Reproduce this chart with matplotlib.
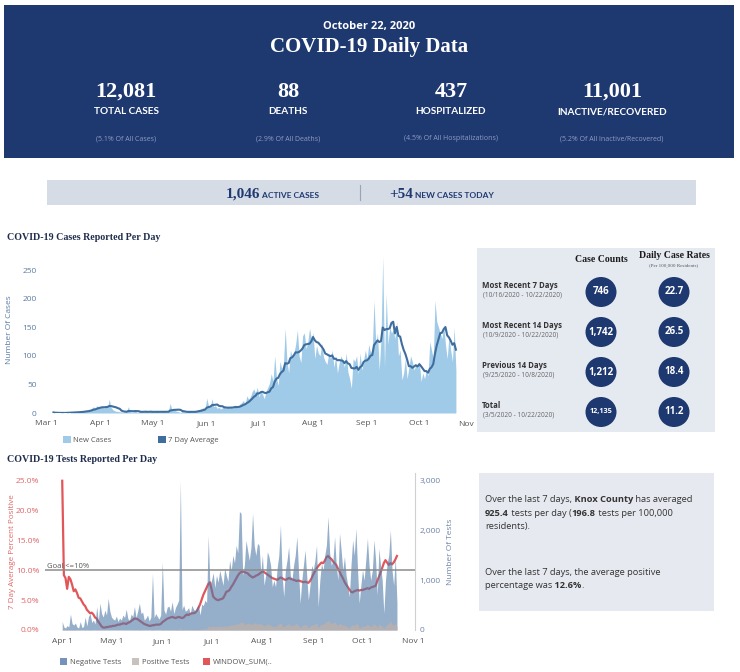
import numpy as np
import pandas as pd
import matplotlib
matplotlib.use("Agg")
import matplotlib.pyplot as plt
import matplotlib.dates as mdates
from matplotlib.patches import Rectangle, Ellipse
from matplotlib.ticker import FuncFormatter

# ---------------- data ----------------
report_date = "October 22, 2020"
header_values = ["12,081", "88", "437", "11,001"]
header_labels = ["TOTAL CASES", "DEATHS", "HOSPITALIZED", "INACTIVE/RECOVERED"]
header_shares = ["(5.1% Of All Cases)", "(2.9% Of All Deaths)",
                 "(4.5% Of All Hospitalizations)", "(5.2% Of All Inactive/Recovered)"]
active_cases = "1,046"
new_cases_today = "+54"

periods = ["Most Recent 7 Days", "Most Recent 14 Days", "Previous 14 Days", "Total"]
period_ranges = ["(10/16/2020 - 10/22/2020)", "(10/9/2020 - 10/22/2020)",
                 "(9/25/2020 - 10/8/2020)", "(3/5/2020 - 10/22/2020)"]
case_counts = ["746", "1,742", "1,212", "12,135"]
case_rates = ["22.7", "26.5", "18.4", "11.2"]

# daily new cases, Mar 5 - Oct 22
cases_mar = [1, 0, 0, 0, 0, 1, 0, 0, 1, 0, 1, 2, 1, 2, 1, 3, 2, 4, 3, 5, 4, 6, 8, 11, 7, 13, 10]
cases_apr = [11, 10, 8, 13, 9, 24, 10, 6, 4, 3, 3, 2, 2, 1, 2, 3, 11, 2, 1, 2, 3,
             1, 2, 4, 1, 2, 3, 1, 2, 3]
cases_may = [2, 1, 3, 2, 1, 2, 3, 2, 1, 4, 17, 5, 6, 4, 3, 2, 1, 3, 2, 1, 2,
             3, 2, 1, 3, 4, 5, 6, 8, 9, 7]
cases_jun = [26, 12, 9, 25, 11, 13, 8, 10, 7, 9, 12, 8, 11, 9, 10, 8, 14, 12, 9, 16, 18,
             22, 15, 30, 24, 28, 37, 42, 35, 45]
cases_jul = [28, 40, 33, 25, 38, 45, 52, 69, 55, 100, 62, 48, 90, 78, 85, 148, 92, 70, 110, 98, 105,
             120, 145, 100, 88, 135, 140, 112, 125, 148, 130]
cases_aug = [140, 95, 118, 105, 100, 122, 98, 90, 85, 105, 95, 110, 80, 100, 70, 88, 100, 92, 80, 105, 72,
             60, 43, 95, 90, 100, 68, 105, 75, 92, 110]
cases_sep = [95, 120, 105, 112, 197, 120, 140, 75, 130, 273, 80, 209, 120, 150, 140, 145, 130, 160, 100, 110, 58,
             70, 95, 60, 80, 100, 90, 75, 85, 78]
cases_oct = [90, 55, 70, 60, 75, 65, 125, 110, 95, 197, 160, 150, 140, 130, 155, 120, 95, 135, 110, 90, 150, 75]
new_cases = cases_mar + cases_apr + cases_may + cases_jun + cases_jul + cases_aug + cases_sep + cases_oct

# daily tests, Apr 1 - Oct 22
neg_apr = [170, 60, 40, 90, 60, 320, 130, 100, 140, 60, 40, 170, 50, 70, 260, 80, 270, 330, 150, 200, 120,
           470, 180, 540, 330, 260, 400, 300, 640, 380]
neg_may = [260, 220, 200, 280, 170, 240, 200, 300, 250, 420, 230, 190, 320, 270, 470, 250, 380, 540, 330, 360, 200,
           240, 300, 180, 260, 1140, 250, 330, 270, 220, 300]
neg_jun = [1370, 400, 320, 460, 480, 380, 570, 330, 450, 520, 600, 3000, 410, 500, 380, 400, 450, 320, 500, 420, 380,
           460, 510, 300, 520, 490, 600, 550, 1900, 900]
neg_jul = [1000, 1150, 850, 1100, 960, 1200, 1050, 900, 1250, 1100, 980, 1400, 1200, 1500,
           1350, 1700, 1550, 2380, 2345, 1100, 1300, 1800, 1600, 1400, 1650, 2345, 1700, 1500, 1740, 1700, 1150]
neg_aug = [1500, 900, 1100, 1575, 1474, 1300, 870, 1000, 870, 1250, 1500, 2110, 1100, 670,
           1200, 1400, 1675, 1100, 1005, 1300, 1500, 1876, 1200, 536, 1000, 1300, 1608, 1100, 603, 900, 1300]
neg_sep = [1200, 1400, 1700, 469, 1000, 1340, 1200, 1500, 1700, 2278, 1541, 1300, 1400, 1876,
           1300, 1005, 1943, 1600, 1200, 1474, 1100, 900, 670, 1300, 1810, 1500, 2043, 1200, 536, 900]
neg_oct = [1206, 1000, 1400, 1843, 1300, 1000, 1200, 1810, 1400, 700, 1640, 1300, 1000, 335,
           1000, 1340, 1500, 2010, 1200, 900, 1474, 536]
negative_tests = neg_apr + neg_may + neg_jun + neg_jul + neg_aug + neg_sep + neg_oct

pos_apr = [20, 8, 5, 9, 6, 18, 10, 8, 9, 5, 4, 8, 4, 5, 9, 3, 8, 9, 4, 5, 3, 8, 3, 6, 4, 3, 5, 2, 4, 3]
pos_may = [2, 2, 1, 3, 2, 2, 3, 3, 4, 3, 2, 4, 3, 4, 8, 4, 6, 8, 5, 6, 3, 4, 3, 2, 3, 20, 3, 4, 3, 2, 4]
pos_jun = [22, 8, 6, 9, 10, 8, 12, 7, 9, 11, 13, 45, 9, 10, 8, 9, 10, 8, 12, 11, 10,
           14, 16, 12, 18, 20, 25, 30, 90, 60]
pos_jul = [70, 80, 60, 75, 65, 85, 75, 70, 90, 80, 75, 100, 90, 110, 100, 130, 115, 140, 160, 150, 110,
           120, 140, 130, 115, 125, 150, 130, 120, 135, 125]
pos_aug = [110, 80, 95, 120, 115, 100, 75, 80, 70, 100, 120, 150, 95, 60, 95, 110, 130, 90, 85, 100, 115,
           140, 95, 45, 80, 100, 120, 90, 50, 75, 100]
pos_sep = [100, 120, 150, 45, 90, 120, 110, 140, 160, 200, 150, 130, 140, 170, 120, 95, 140, 120, 100, 105, 80,
           60, 45, 85, 110, 90, 120, 130, 40, 60]
pos_oct = [80, 70, 95, 120, 90, 75, 85, 130, 100, 50, 120, 100, 80, 30, 80, 110, 130, 180, 120, 90, 140, 60]
positive_tests = pos_apr + pos_may + pos_jun + pos_jul + pos_aug + pos_sep + pos_oct

# 7 day average percent positive, Apr 1 - Oct 22
pct_apr = [25.0, 9.2, 8.7, 6.9, 8.9, 8.5, 7.6, 6.5, 6.8, 6.2, 5.4, 5.3, 4.8, 4.3, 4.0, 3.4, 3.1, 2.8, 2.9, 2.6,
           2.1, 1.9, 1.4, 1.0, 0.6, 0.4, 0.4, 0.5, 0.5, 0.6]
pct_may = [0.6, 0.7, 0.7, 0.8, 0.9, 0.9, 1.0, 1.1, 1.1, 1.0, 1.2, 1.3, 1.5, 1.7, 1.9, 1.9, 1.8, 1.6, 1.4, 1.2,
           1.0, 0.9, 0.8, 0.7, 0.7, 0.8, 0.8, 0.9, 0.9, 0.9, 1.0]
pct_jun = [1.3, 1.5, 1.7, 1.9, 2.0, 2.1, 2.2, 2.1, 2.0, 2.1, 2.2, 2.1, 2.0, 2.1, 2.4, 2.6, 2.5, 2.7, 2.8, 2.8,
           2.9, 3.2, 3.7, 4.3, 5.1, 5.9, 6.5, 7.1, 7.7, 8.0]
pct_jul = [6.8, 5.6, 5.3, 5.1, 5.0, 5.1, 5.2, 5.3, 5.8, 6.4, 6.5, 6.7, 7.2, 7.6, 8.1, 8.6, 9.1, 9.5, 9.7, 9.8,
           9.7, 9.6, 9.5, 9.2, 9.0, 8.8, 8.9, 9.1, 9.2, 9.4, 9.6]
pct_aug = [9.8, 9.7, 9.5, 9.3, 9.1, 8.9, 8.7, 8.6, 8.5, 8.4, 8.6, 8.8, 8.7, 8.5, 8.4, 8.5, 8.7, 8.6, 8.5, 8.4,
           8.3, 8.2, 8.3, 8.2, 8.1, 8.0, 8.1, 8.0, 7.9, 8.2, 8.7]
pct_sep = [9.3, 9.8, 10.3, 10.7, 11.0, 11.3, 11.2, 11.6, 12.2, 12.4, 12.1, 11.9, 11.5, 11.2, 10.9, 10.3, 9.8,
           9.2, 8.7, 8.1, 7.6, 7.2, 6.8, 6.4, 6.3, 6.5, 6.6, 6.7, 6.6, 6.7]
pct_oct = [6.7, 6.8, 6.9, 7.0, 6.9, 7.1, 7.2, 7.3, 7.4, 8.2, 8.9, 9.6, 10.4, 11.2, 11.7, 11.3, 10.9, 11.2,
           11.0, 11.3, 11.8, 12.4]
pct_positive = pct_apr + pct_may + pct_jun + pct_jul + pct_aug + pct_sep + pct_oct
goal_pct = 10

# ---------------- style ----------------
plt.rcParams["font.family"] = ["Open Sans", "DejaVu Sans"]
SERIF = "Liberation Serif"
NAVY = "#1e3870"
W, H = 740, 672

fig = plt.figure(figsize=(W / 100, H / 100), dpi=100)
fig.patch.set_facecolor("white")

# full-figure layer in pixel units for panels and texts
bg = fig.add_axes([0, 0, 1, 1])
bg.set_xlim(0, W)
bg.set_ylim(H, 0)
bg.axis("off")
renderer = fig.canvas.get_renderer()


def px_axes(left, top, right, bottom):
    return fig.add_axes([left / W, 1 - bottom / H, (right - left) / W, (bottom - top) / H])


def rich(x, y, parts, **common):
    # consecutive pieces of text on one baseline
    for s, kw in parts:
        t = bg.text(x, y, s, va="baseline", ha="left", **common, **kw)
        x += t.get_window_extent(renderer=renderer).width


# header
bg.add_patch(Rectangle((4, 5), 730, 153, color=NAVY, lw=0))
bg.text(369, 27, report_date, color="white", fontsize=8, fontweight="bold", ha="center", va="center")
bg.text(369, 47, "COVID-19 Daily Data", color="white", fontsize=15, fontweight="bold",
        family=SERIF, ha="center", va="center")
stat_x = [126, 288, 451, 612]
for x, v, lab, sh in zip(stat_x, header_values, header_labels, header_shares):
    bg.text(x, 92, v, color="white", fontsize=16, fontweight="bold", family=SERIF, ha="center", va="center")
    bg.text(x, 112, lab, color="white", fontsize=7.2, fontweight="bold", family="Lato", ha="center", va="center")
    bg.text(x, 139, sh, color="#8d9cc4", fontsize=5, ha="center", va="center")

# active cases bar
bg.add_patch(Rectangle((47, 180), 649, 25, color="#d6dce6", lw=0))
bg.plot([360, 360], [185, 200], color="#9aa4b5", lw=0.8)
rich(226, 197.5, [(active_cases, dict(family=SERIF, fontsize=11)),
                  (" ACTIVE CASES", dict(family="Lato", fontsize=6))], color=NAVY, fontweight="bold")
rich(389, 197.5, [(new_cases_today, dict(family=SERIF, fontsize=11)),
                  (" NEW CASES TODAY", dict(family="Lato", fontsize=6))], color=NAVY, fontweight="bold")

# section titles
bg.text(7, 237, "COVID-19 Cases Reported Per Day", family=SERIF, fontweight="bold", fontsize=7.2,
        color="#1f2d4d", va="center")
bg.text(7, 459, "COVID-19 Tests Reported Per Day", family=SERIF, fontweight="bold", fontsize=7.2,
        color="#1f2d4d", va="center")

# case table
bg.add_patch(Rectangle((477, 248), 238, 184, color="#e5e9f0", lw=0))
bg.text(601, 260, "Case Counts", family=SERIF, fontweight="bold", fontsize=7, ha="center", va="center",
        color="#1a1a1a")
bg.text(674, 255, "Daily Case Rates", family=SERIF, fontweight="bold", fontsize=7, ha="center", va="center",
        color="#1a1a1a")
bg.text(674, 266, "(Per 100,000 Residents)", family=SERIF, fontsize=3.6, ha="center", va="center",
        color="#555555")
row_y = [292, 332, 372, 412]
for y, p, rng, cc, cr in zip(row_y, periods, period_ranges, case_counts, case_rates):
    bg.text(482, y - 7, p, fontweight="bold", fontsize=5.6, color="#333333", va="center")
    bg.text(483, y + 2.5, rng, fontsize=4.7, color="#666666", va="center")
    for cx, val in ((601, cc), (674, cr)):
        bg.add_patch(Ellipse((cx, y), 31, 30, color=NAVY, lw=0))
        bg.text(cx, y, val, color="white", fontweight="bold", fontsize=7 if len(val) < 6 else 5.2,
                ha="center", va="center")

# tests text panel
bg.add_patch(Rectangle((479, 473), 235, 138, color="#e6e9ef", lw=0))
txt = dict(fontsize=6.7, color="#333333")
B, N = dict(fontweight="bold"), dict(fontweight="normal")
rich(485, 502, [("Over the last 7 days,", N), (" Knox County", B), (" has averaged", N)], **txt)
rich(485, 516, [("925.4", B), (" tests per day (", N), ("196.8", B), (" tests per 100,000", N)], **txt)
rich(485, 529, [("residents).", N)], **txt)
rich(485, 575, [("Over the last 7 days, the average positive", N)], **txt)
rich(485, 588, [("percentage was", N), (" 12.6%", B), (".", N)], **txt)

# ---------------- cases chart ----------------
case_dates = pd.date_range("2020-03-05", periods=len(new_cases), freq="D")
avg7 = pd.Series(new_cases).rolling(7, min_periods=1).mean()

ax1 = px_axes(42, 250, 466, 413)
ax1.fill_between(case_dates, new_cases, color="#a0cbe8", lw=0)
ax1.plot(case_dates, avg7, color="#3f6e9e", lw=1.5)
ax1.set_xlim(pd.Timestamp("2020-02-27 10:00"), pd.Timestamp("2020-10-27 19:00"))
ax1.set_ylim(0, 285)
ax1.set_yticks(range(0, 251, 50))
date_fmt = FuncFormatter(lambda v, p: f"{mdates.num2date(v):%b} {mdates.num2date(v).day}")
ax1.xaxis.set_major_locator(mdates.MonthLocator())
ax1.xaxis.set_major_formatter(date_fmt)
ax1.tick_params(axis="x", length=0, labelsize=6, labelcolor="#555555", pad=5)
ax1.tick_params(axis="y", length=0, labelsize=6, labelcolor="#5b7ba3", pad=4)
for s in ax1.spines.values():
    s.set_visible(False)
ax1.patch.set_alpha(0)
bg.text(458, 424, "Nov", fontsize=6, color="#555555", va="center")
bg.text(10, 330, "Number Of Cases", rotation=90, fontsize=6, color="#5b7ba3", ha="center", va="center")

bg.add_patch(Rectangle((63, 436), 8, 7, color="#a0cbe8", lw=0))
bg.text(73, 440, "New Cases", fontsize=5.5, color="#555555", va="center")
bg.add_patch(Rectangle((158, 436), 8, 7, color="#3f6e9e", lw=0))
bg.text(168, 440, "7 Day Average", fontsize=5.5, color="#555555", va="center")

# ---------------- tests chart ----------------
test_dates = pd.date_range("2020-04-01", periods=len(negative_tests), freq="D")
tests_per_pct = 3000 / 25

ax2 = px_axes(45, 473, 415, 630)
ax3 = ax2.twinx()
ax2.plot(test_dates, pct_positive, color="#e15759", lw=1.6)
ax3.fill_between(test_dates, negative_tests, color="#4e79a7", alpha=0.6, lw=0)
ax3.fill_between(test_dates, positive_tests, color="#bab0ac", alpha=0.85, lw=0)
ax3.axhline(goal_pct * tests_per_pct, color="#8c8c8c", lw=1.1, zorder=5)
ax3.text(0.005, goal_pct * tests_per_pct, "Goal <=10%", transform=ax3.get_yaxis_transform(),
         fontsize=5.5, color="#555555", va="bottom", zorder=6)

ax2.set_xlim(pd.Timestamp("2020-03-21 12:00"), pd.Timestamp("2020-11-02"))
ax2.set_ylim(0, 26.3)
ax3.set_ylim(0, 26.3 * tests_per_pct)
ax2.set_yticks([0, 5, 10, 15, 20, 25])
ax2.yaxis.set_major_formatter(FuncFormatter(lambda v, p: f"{v:.1f}%"))
ax3.set_yticks([0, 1000, 2000, 3000])
ax3.yaxis.set_major_formatter(FuncFormatter(lambda v, p: f"{v:,.0f}"))
ax2.xaxis.set_major_locator(mdates.MonthLocator())
ax2.xaxis.set_major_formatter(date_fmt)
ax2.tick_params(axis="x", length=0, labelsize=6, labelcolor="#555555", pad=6)
ax2.tick_params(axis="y", length=0, labelsize=6, labelcolor="#e06666", pad=4)
ax3.tick_params(axis="y", length=0, labelsize=6, labelcolor="#7083a8", pad=3)
for s in ax2.spines.values():
    s.set_visible(False)
for name, s in ax3.spines.items():
    s.set_visible(name == "right")
ax3.spines["right"].set_color("#d0d0d0")
ax3.spines["right"].set_linewidth(0.8)
bg.text(13, 552, "7 Day Average Percent Positive", rotation=90, fontsize=5.8, color="#e06666",
        ha="center", va="center")
bg.text(450, 552, "Number Of Tests", rotation=90, fontsize=6, color="#7083a8", ha="center", va="center")

bg.add_patch(Rectangle((60, 658), 7, 7, color="#7393bd", lw=0))
bg.text(70, 662, "Negative Tests", fontsize=5.5, color="#555555", va="center")
bg.add_patch(Rectangle((132, 658), 7, 7, color="#c8c2bf", lw=0))
bg.text(142, 662, "Positive Tests", fontsize=5.5, color="#555555", va="center")
bg.add_patch(Rectangle((203, 658), 7, 7, color="#e15759", lw=0))
bg.text(213, 662, "WINDOW_SUM(..", fontsize=5.5, color="#555555", va="center")

fig.savefig("out.png", dpi=100)
